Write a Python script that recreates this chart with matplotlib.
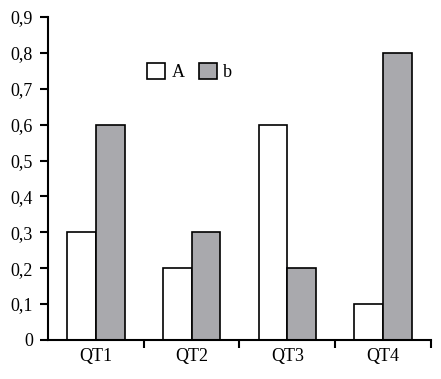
import numpy as np
import matplotlib
matplotlib.use("Agg")
import matplotlib.pyplot as plt
from matplotlib.ticker import FuncFormatter

categories = ["QT1", "QT2", "QT3", "QT4"]
values_a = [0.3, 0.2, 0.6, 0.1]
values_b = [0.6, 0.3, 0.2, 0.8]
yticks = [0, 0.1, 0.2, 0.3, 0.4, 0.5, 0.6, 0.7, 0.8, 0.9]

plt.rcParams['font.family'] = ['Liberation Serif', 'DejaVu Serif']

fig = plt.figure(figsize=(4.41, 3.79), dpi=100)
ax = fig.add_axes([0.109, 0.103, 0.868, 0.852])

x = np.arange(len(categories))
w = 0.3
ax.bar(x - w / 2, values_a, w, color="white", edgecolor="black", linewidth=1.2, label="A")
ax.bar(x + w / 2, values_b, w, color="#a9a9ad", edgecolor="black", linewidth=1.2, label="b")

ax.set_xlim(-0.5, len(categories) - 0.5)
ax.set_ylim(0, 0.9)
ax.set_yticks(yticks)
ax.yaxis.set_major_formatter(FuncFormatter(lambda v, p: "0" if v == 0 else f"{v:.1f}".replace(".", ",")))

# labels in the middle, tick marks at category boundaries
ax.set_xticks(x)
ax.set_xticklabels(categories)
ax.set_xticks(np.arange(len(categories)) + 0.5, minor=True)
ax.tick_params(axis="x", which="major", length=0, pad=6, labelsize=13)
ax.tick_params(axis="x", which="minor", length=6, width=1.5, direction="out")
ax.tick_params(axis="y", length=6, width=1.5, labelsize=13, pad=5)

for s in ["top", "right"]:
    ax.spines[s].set_visible(False)
for s in ["left", "bottom"]:
    ax.spines[s].set_linewidth(1.5)

ax.legend(loc="upper left", bbox_to_anchor=(0.24, 0.88), ncol=2, frameon=False,
          fontsize=13, handlelength=1.0, handleheight=1.0, handletextpad=0.35,
          columnspacing=0.8, borderaxespad=0)

fig.savefig("out.png", dpi=100)
